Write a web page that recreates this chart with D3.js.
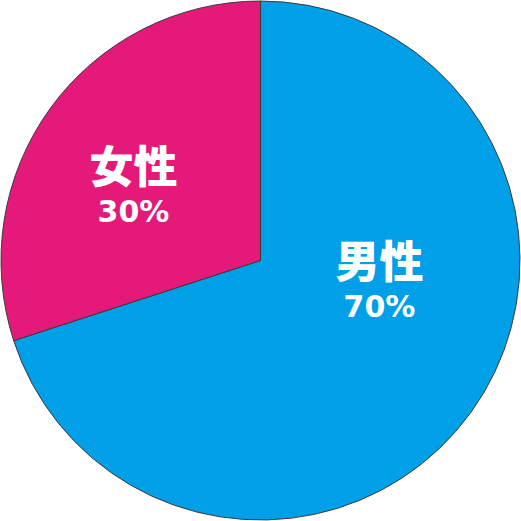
<!DOCTYPE html>
<html><head><meta charset="utf-8">
<script src="https://cdn.jsdelivr.net/npm/d3@7"></script>
<style>html,body{margin:0;padding:0;background:#fff;}svg{display:block;}</style>
</head><body>
<script>
const categories = ["男性", "女性"];
const values = [70, 30];
const percentLabels = ["70%", "30%"];
const colors = ["#00A0E9", "#E4197A"];

const W = 521, H = 521, cx = 260.5, cy = 260.5, R = 259.5;
const svg = d3.select("body").append("svg").attr("width", W).attr("height", H);
const g = svg.append("g").attr("transform", `translate(${cx},${cy})`);
const pie = d3.pie().sort(null).value(d => d.v);
const data = pie(categories.map((c, i) => ({c, v: values[i], p: percentLabels[i], col: colors[i]})));
const arc = d3.arc().innerRadius(0).outerRadius(R);
g.selectAll("path").data(data).join("path")
  .attr("d", arc).attr("fill", d => d.data.col)
  .attr("stroke", "#3a3a3a").attr("stroke-width", 1);

// label placement: polar position (angle from 12 o'clock, radius fraction)
const labelPlace = [
  {a: 98.8, r: 0.464},
  {a: 301, r: 0.571}
];
const cjk = "'Noto Sans CJK JP', 'Noto Sans', sans-serif";
const num = "'DejaVu Sans', 'Noto Sans', sans-serif";
const lg = g.selectAll("g.lbl").data(data).join("g").attr("class", "lbl")
  .attr("transform", (d, i) => {
    const p = labelPlace[i];
    const t = p.a * Math.PI / 180;
    return `translate(${Math.sin(t) * p.r * R},${-Math.cos(t) * p.r * R})`;
  });
lg.append("text").text(d => d.data.c)
  .attr("text-anchor", "middle").attr("y", -1)
  .attr("font-family", cjk).attr("font-weight", 900).attr("font-size", 44)
  .attr("fill", "#fff");
lg.append("text").text(d => d.data.p)
  .attr("text-anchor", "middle").attr("y", 38)
  .attr("font-family", num).attr("font-weight", 700).attr("font-size", 30)
  .attr("fill", "#fff");
</script>
</body></html>
